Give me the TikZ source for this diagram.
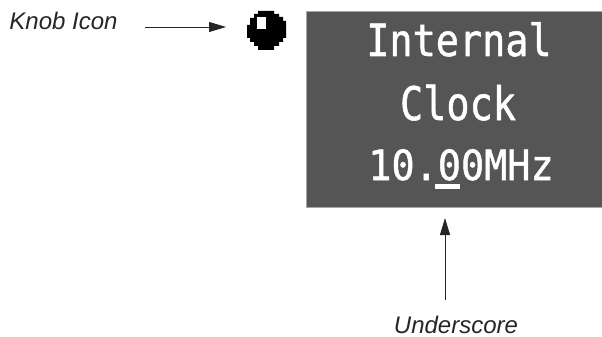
\documentclass[tikz,border=0pt]{standalone}
\usepackage{fontspec}
\setmainfont{Liberation Sans}
\newfontfamily\lcdfont[FakeBold=1.2]{DejaVu Sans Mono}
\usetikzlibrary{arrows.meta}
\definecolor{panelgray}{HTML}{555555}
\tikzset{
  x=1pt,y=-1pt,
  caption/.style={font=\fontsize{24}{26}\selectfont\itshape,text=black!85,inner sep=0pt,anchor=base},
  lcd/.style={font=\lcdfont\fontsize{38.5}{39}\selectfont,text=white,inner sep=0pt,anchor=base},
  pointer/.style={draw=black!85,line width=0.9pt,-{Triangle[length=17pt,width=10pt]}}
}
\begin{document}
\begin{tikzpicture}
\useasboundingbox (0,0) rectangle (602,337);
\node[fill=panelgray,draw=black!35,line width=0.5pt,minimum width=300pt,minimum height=196pt,inner sep=0pt,anchor=north west] (panel) at (306,11) {};
\node[lcd] (l1) at (459,56) {\scalebox{1}[1.15]{Internal}};
\node[lcd] (l2) at (458,120) {\scalebox{1}[1.2]{Clock}};
\node[lcd] (l3) at (461,180) {\scalebox{1}[1.08]{10.00MHz}};
\fill[white] (435,184) rectangle (460,189);
% knob
\fill[black] (258,11) -- (274,11) -- (274,14) -- (279,14) -- (279,17) -- (283,17) -- (283,21) -- (286,21) -- (286,38) -- (283,38) -- (283,42) -- (279,42) -- (279,46) -- (274,46) -- (274,50) -- (258,50) -- (258,46) -- (254,46) -- (254,42) -- (250,42) -- (250,38) -- (247,38) -- (247,25) -- (250,25) -- (250,18) -- (254,18) -- (254,14) -- (258,14) -- cycle;
\fill[white] (257,17) rectangle (266,29);
\node[caption] (knoblabel) at (63.5,30) {Knob Icon};
\node[caption] (underlabel) at (456,333) {Underscore};
\coordinate (ka) at (145,27);
\coordinate (kb) at (226,27);
\coordinate (ua) at (445,300);
\coordinate (ub) at (445,218);
\draw[pointer] (ka) -- (kb);
\draw[pointer] (ua) -- (ub);
\end{tikzpicture}
\end{document}
